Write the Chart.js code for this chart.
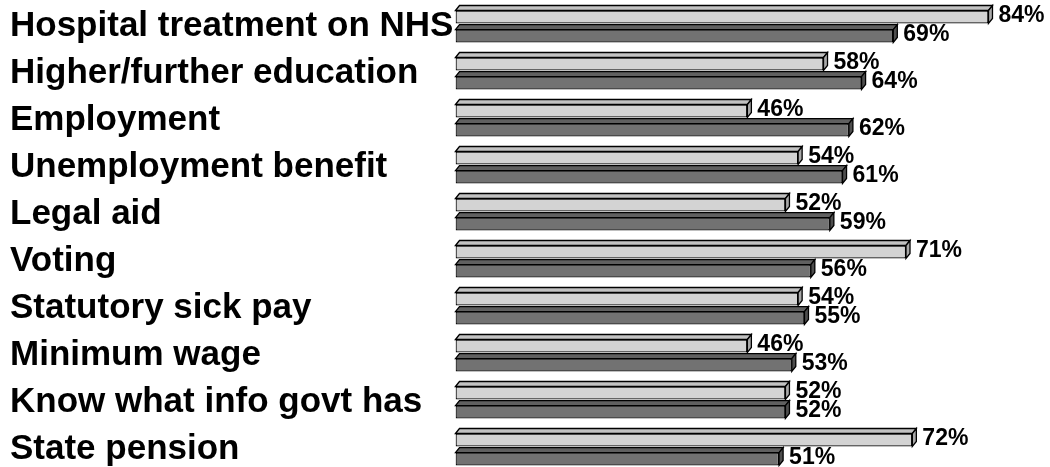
<!DOCTYPE html>
<html>
<head>
<meta charset="utf-8">
<script src="https://cdn.jsdelivr.net/npm/chart.js@4/dist/chart.umd.min.js"></script>
<style>
  html, body { margin: 0; padding: 0; background: #fff; overflow: hidden; width: 1050px; height: 467px; }
  #wrap { position: absolute; left: 0; top: 0; width: 1090px; height: 473px; }
</style>
</head>
<body>
<div id="wrap"><canvas id="c" width="1090" height="473"></canvas></div>
<script>
const categories = [
  'Hospital treatment on NHS',
  'Higher/further education',
  'Employment',
  'Unemployment benefit',
  'Legal aid',
  'Voting',
  'Statutory sick pay',
  'Minimum wage',
  'Know what info govt has',
  'State pension'
];
const seriesLight = [84, 58, 46, 54, 52, 71, 54, 46, 52, 72];
const seriesDark  = [69, 64, 62, 61, 59, 56, 55, 53, 52, 51];

const faceColors = [
  { front: '#d3d3d3', top: '#c2c2c2', side: '#a9a9a9' },
  { front: '#727272', top: '#606060', side: '#4e4e4e' }
];
const DX = 4, DY = 5;

const bar3d = {
  id: 'bar3d',
  afterDatasetsDraw(chart) {
    const ctx = chart.ctx;
    ctx.save();
    for (let d = 0; d < chart.data.datasets.length; d++) {
      const meta = chart.getDatasetMeta(d);
      const col = faceColors[d];
      meta.data.forEach((el) => {
        const p = el.getProps(['x', 'y', 'base', 'height'], true);
        const top = p.y - p.height / 2, bot = p.y + p.height / 2;
        const l = Math.min(p.base, p.x), r = Math.max(p.base, p.x);
        ctx.lineWidth = 1.3;
        ctx.strokeStyle = '#000';
        ctx.lineJoin = 'miter';
        ctx.beginPath();
        ctx.moveTo(l, top);
        ctx.lineTo(l + DX, top - DY);
        ctx.lineTo(r + DX, top - DY);
        ctx.lineTo(r, top);
        ctx.closePath();
        ctx.fillStyle = col.top;
        ctx.fill();
        ctx.stroke();
        ctx.beginPath();
        ctx.moveTo(r, top);
        ctx.lineTo(r + DX, top - DY);
        ctx.lineTo(r + DX, bot - DY);
        ctx.lineTo(r, bot);
        ctx.closePath();
        ctx.fillStyle = col.side;
        ctx.fill();
        ctx.stroke();
      });
    }
    ctx.fillStyle = '#000';
    ctx.font = 'bold 23px "Liberation Sans", Arial, sans-serif';
    ctx.textAlign = 'left';
    ctx.textBaseline = 'middle';
    for (let d = 0; d < chart.data.datasets.length; d++) {
      const meta = chart.getDatasetMeta(d);
      const vals = chart.data.datasets[d].data;
      meta.data.forEach((el, i) => {
        const p = el.getProps(['x', 'y'], true);
        ctx.fillText(vals[i] + '%', p.x + 10, p.y - 1.5);
      });
    }
    ctx.restore();
  }
};

new Chart(document.getElementById('c'), {
  type: 'bar',
  data: {
    labels: categories,
    datasets: [
      { label: 'Series 1', data: seriesLight, backgroundColor: faceColors[0].front,
        borderColor: '#000', borderWidth: 1.3, borderSkipped: false,
        categoryPercentage: 0.81, barPercentage: 0.68 },
      { label: 'Series 2', data: seriesDark, backgroundColor: faceColors[1].front,
        borderColor: '#000', borderWidth: 1.3, borderSkipped: false,
        categoryPercentage: 0.81, barPercentage: 0.68 }
    ]
  },
  options: {
    indexAxis: 'y',
    responsive: false,
    animation: false,
    devicePixelRatio: 1,
    layout: { padding: { left: 10, top: 3, right: 0, bottom: 0 } },
    plugins: { legend: { display: false }, tooltip: { enabled: false } },
    scales: {
      x: { display: false, min: 0, max: 100 },
      y: {
        grid: { display: false, drawTicks: false },
        border: { display: false },
        ticks: {
          crossAlign: 'far',
          color: '#000',
          padding: 0,
          font: { family: '"Liberation Sans", Arial, sans-serif', weight: 'bold', size: 35 }
        },
        afterFit(scale) {
          scale.width = 445.5;
          scale.paddingTop = 0;
          scale.paddingBottom = 0;
        }
      }
    }
  },
  plugins: [bar3d]
});
</script>
</body>
</html>
